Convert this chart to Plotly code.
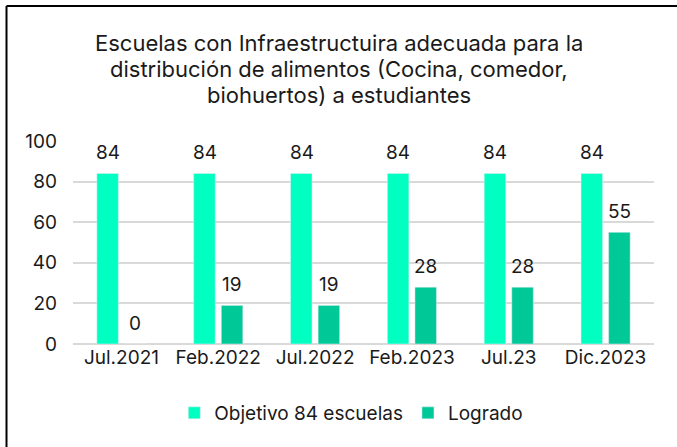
import plotly.graph_objects as go

categories = ["Jul.2021", "Feb.2022", "Jul.2022", "Feb.2023", "Jul.23", "Dic.2023"]
objetivo = [84, 84, 84, 84, 84, 84]
logrado = [0, 19, 19, 28, 28, 55]
series_names = ["Objetivo 84 escuelas", "Logrado"]
title_lines = ["Escuelas con Infraestructuira adecuada para la",
               "distribución de alimentos (Cocina, comedor,",
               "biohuertos) a estudiantes"]

c1 = "#00FFC0"
c2 = "#00C896"
font = "Inter, Roboto, sans-serif"
fc = "#1a1a1a"

fig = go.Figure()
fig.add_trace(go.Bar(x=categories, y=objetivo, name=series_names[0], marker_color=c1))
fig.add_trace(go.Bar(x=categories, y=logrado, name=series_names[1], marker_color=c2))

W, H = 677, 447
ml, mr, mt, mb = 73, 23, 141, 103
pw = W - ml - mr
ph = H - mt - mb


def py(pix):
    return (mt + ph - pix) / ph


def px(pix):
    return (pix - ml) / pw


fig.update_layout(
    width=W, height=H,
    margin=dict(l=ml, r=mr, t=mt, b=mb),
    paper_bgcolor="white", plot_bgcolor="white",
    barmode="group", bargap=0.43, bargroupgap=0.22,
    font=dict(family=font, size=19, color=fc),
    showlegend=True,
    legend=dict(orientation="h", x=0.479, xanchor="center", y=py(413),
                yanchor="middle", font=dict(size=19, color=fc),
                itemwidth=30, traceorder="normal"),
    xaxis=dict(showgrid=False, showline=False, ticks="", tickfont=dict(size=19, color=fc)),
    yaxis=dict(range=[0, 100], dtick=20, showgrid=True, gridcolor="#d9d9d9", gridwidth=1.5,
               zeroline=True, zerolinecolor="#d9d9d9", zerolinewidth=1.5,
               showline=False, ticks="", tickfont=dict(size=19, color=fc),
               ticklabelstandoff=15),
)

# title, one line per annotation for the tighter line spacing
for k, line in enumerate(title_lines):
    fig.add_annotation(x=px(338.5), y=py(43 + 26 * k), xref="paper", yref="paper",
                       text=line, showarrow=False, xanchor="center", yanchor="middle",
                       font=dict(size=22, color=fc))

# value labels, placed in data coordinates above each bar
for tr, dx in ((fig.data[0], -0.14), (fig.data[1], 0.14)):
    for i, (cat, v) in enumerate(zip(tr.x, tr.y)):
        fig.add_annotation(x=i + dx, y=v, xref="x", yref="y", text=str(v),
                           showarrow=False, yshift=21, yanchor="middle",
                           font=dict(size=19, color=fc))

# frame (top and left edges visible)
x0 = px(6.5)
ytop = py(6)
fig.add_shape(type="line", xref="paper", yref="paper", x0=x0, x1=px(W + 5),
              y0=ytop, y1=ytop, line=dict(color="black", width=2))
fig.add_shape(type="line", xref="paper", yref="paper", x0=x0, x1=x0,
              y0=ytop, y1=py(H + 5), line=dict(color="black", width=2))

fig.write_html("out.html", config={"displayModeBar": False},
               post_script="document.body.style.margin='0px';document.body.style.overflow='hidden';")
